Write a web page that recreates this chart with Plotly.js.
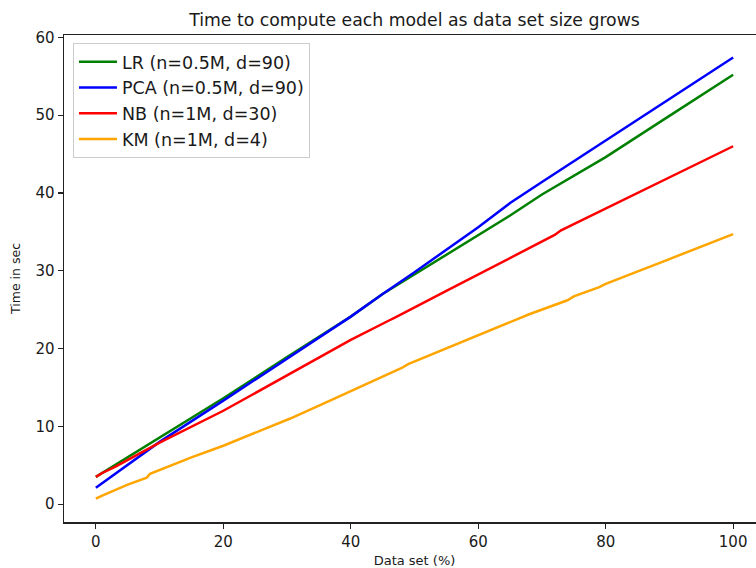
<!DOCTYPE html>
<html>
<head>
<meta charset="utf-8">
<script src="https://cdn.plot.ly/plotly-3.0.1.min.js"></script>
<style>
html,body{margin:0;padding:0;overflow:hidden;background:#fff;width:756px;height:568px;}
#chart{width:780px;height:568px;}
</style>
</head>
<body>
<div id="chart"></div>
<script>
// Data
const lrX  = [0, 1, 3, 10, 20, 30, 40, 45, 50, 60, 65, 70, 75, 77, 80, 90, 100];
const lrY  = [3.5, 4.0, 5.0, 8.6, 13.6, 18.9, 24.1, 27.0, 29.5, 34.5, 37.1, 39.8, 42.2, 43.2, 44.6, 49.9, 55.2];

const pcaX = [0, 1, 2, 5, 8, 10, 20, 30, 40, 45, 50, 60, 64, 65, 70, 80, 90, 100];
const pcaY = [2.1, 2.7, 3.2, 5.1, 6.9, 8.0, 13.3, 18.7, 24.1, 27.0, 29.8, 35.6, 38.0, 38.7, 41.4, 46.7, 52.0, 57.4];

const nbX  = [0, 1, 3, 10, 20, 30, 39, 40, 46, 47, 55, 65, 72, 73, 80, 89, 90, 100];
const nbY  = [3.5, 4.0, 4.8, 7.9, 12.0, 16.5, 20.6, 21.1, 23.6, 24.0, 27.4, 31.6, 34.6, 35.2, 38.0, 41.6, 42.1, 46.0];

const kmX  = [0, 1, 5, 8, 8.5, 15, 20, 25, 30.5, 37, 42, 48, 49, 55, 62, 68, 74, 75, 79, 80, 90, 100];
const kmY  = [0.7, 1.1, 2.5, 3.4, 3.9, 6.0, 7.5, 9.2, 11.0, 13.4, 15.3, 17.5, 18.0, 20.0, 22.3, 24.4, 26.2, 26.7, 27.9, 28.3, 31.5, 34.7];

const seriesNames = ["LR (n=0.5M, d=90)", "PCA (n=0.5M, d=90)", "NB (n=1M, d=30)", "KM (n=1M, d=4)"];
const seriesColors = ["#008000", "#0000ff", "#ff0000", "#ffa500"];
const xTicks = [0, 20, 40, 60, 80, 100];
const yTicks = [0, 10, 20, 30, 40, 50, 60];

const xs = [lrX, pcaX, nbX, kmX];
const ys = [lrY, pcaY, nbY, kmY];

const traces = xs.map((x, i) => ({
  x: x, y: ys[i], type: "scatter", mode: "lines", name: seriesNames[i],
  line: {color: seriesColors[i], width: 2.5}
}));

const font = "DejaVu Sans, sans-serif";
const ink = "#1a1a1a";
const layout = {
  width: 780, height: 568,
  margin: {l: 64, r: 15, t: 35, b: 46},
  paper_bgcolor: "#fff", plot_bgcolor: "#fff",
  font: {family: font, color: ink, size: 15},
  title: {text: "Time to compute each model as data set size grows", font: {family: font, size: 17.3, color: ink},
          x: 0.5, xref: "paper", y: 1, yref: "paper", yanchor: "bottom", pad: {b: 9}},
  xaxis: {
    range: [-5, 105], tickvals: xTicks, ticks: "outside", ticklen: 5, tickwidth: 1.2, tickcolor: "#222",
    showgrid: false, zeroline: false, showline: true, linecolor: "#222", linewidth: 1.5, mirror: true,
    tickfont: {family: font, size: 15, color: ink},
    title: {text: "Data set (%)", font: {family: font, size: 13, color: ink}, standoff: 9}
  },
  yaxis: {
    range: [-2.3, 60.3], tickvals: yTicks, ticks: "outside", ticklen: 5, tickwidth: 1.2, tickcolor: "#222",
    showgrid: false, zeroline: false, showline: true, linecolor: "#222", linewidth: 1.5, mirror: true,
    tickfont: {family: font, size: 15, color: ink},
    title: {text: "Time in sec", font: {family: font, size: 12.5, color: ink}, standoff: 12}
  },
  legend: {
    x: 0.0128, y: 0.9836, xanchor: "left", yanchor: "top",
    bgcolor: "rgba(255,255,255,0.85)", bordercolor: "#cccccc", borderwidth: 1,
    font: {family: font, size: 17.5, color: ink}, tracegroupgap: 0, itemwidth: 38
  },
  showlegend: true
};

Plotly.newPlot("chart", traces, layout, {displayModeBar: false, staticPlot: true});
</script>
</body>
</html>
